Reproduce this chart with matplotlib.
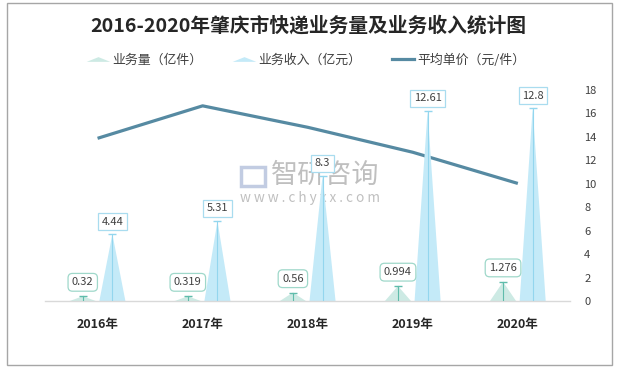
import matplotlib
matplotlib.use("Agg")
import numpy as np
import matplotlib.pyplot as plt
from matplotlib.lines import Line2D
from matplotlib.path import Path
from matplotlib.patches import Rectangle

plt.rcParams['font.family'] = ['Noto Sans CJK SC', 'DejaVu Sans']

years = ['2016年', '2017年', '2018年', '2019年', '2020年']
volume = [0.32, 0.319, 0.56, 0.994, 1.276]      # 业务量（亿件）
revenue = [4.44, 5.31, 8.3, 12.61, 12.8]        # 业务收入（亿元）
unit_price = [13.88, 16.65, 14.82, 12.69, 10.03]  # 平均单价（元/件）
volume_labels = ['0.32', '0.319', '0.56', '0.994', '1.276']
revenue_labels = ['4.44', '5.31', '8.3', '12.61', '12.8']

vol_fill = '#cdeae4'
vol_edge = '#5fbcab'
vol_box = '#9fd8ca'
rev_fill = '#c4eaf8'
rev_edge = '#93d6ee'
rev_box = '#a9dcef'
line_color = '#568aa2'
text_color = '#404040'

fig = plt.figure(figsize=(6.21, 3.68), dpi=100)
ax = fig.add_axes([0.0725, 0.182, 0.846, 0.5734])
ax2 = ax.twinx()

x = np.arange(len(years))
off = 0.141
hw = 0.124


def spike(ax, xc, h, color):
    ax.fill([xc - hw, xc, xc + hw], [0, h, 0], color=color, lw=0, zorder=2)


# watermark (behind the labels)
fig.text(0.437, 0.524, '智研咨询', ha='left', va='center', fontsize=19.5,
         color='#8c8c8c', alpha=0.55, zorder=0)
fig.text(0.386, 0.463, 'w w w . c h y x x . c o m', ha='left', va='center', fontsize=9.8,
         color='#8c8c8c', alpha=0.55, zorder=0)
fig.patches.append(Rectangle((0.388, 0.495), 0.038, 0.052, transform=fig.transFigure,
                             fc='none', ec='#a9b7d6', lw=2.5, alpha=0.7, zorder=0))

for i in range(len(years)):
    xv = x[i] - off
    xr = x[i] + off
    spike(ax, xv, volume[i], vol_fill)
    spike(ax, xr, revenue[i], rev_fill)
    ax.plot([xv, xv], [0, volume[i]], color=vol_edge, lw=0.8, zorder=3)
    ax.plot([xv], [volume[i]], marker='_', ms=6, mew=1, color=vol_edge, zorder=3)
    ax.plot([xr, xr], [0, revenue[i]], color=rev_edge, lw=0.8, zorder=3)
    ax.plot([xr], [revenue[i]], marker='_', ms=6, mew=1, color=rev_edge, zorder=3)
    ax.annotate(volume_labels[i], xy=(xv, volume[i]), xytext=(0, 10),
                textcoords='offset points', ha='center', va='center',
                fontsize=8, color=text_color, zorder=5,
                bbox=dict(boxstyle='round,pad=0.35,rounding_size=0.4', fc='white',
                          ec=vol_box, lw=0.9))
    ax.annotate(revenue_labels[i], xy=(xr, revenue[i]), xytext=(0, 9),
                textcoords='offset points', ha='center', va='center',
                fontsize=8, color=text_color, zorder=5,
                bbox=dict(boxstyle='square,pad=0.3', fc='white', ec=rev_box, lw=0.9))

ax.set_xlim(-0.5, 4.5)
ax.set_ylim(0, 14)
ax.set_yticks([])
ax.set_xticks(x)
ax.set_xticklabels(years, fontsize=9, fontweight='bold', color='#262626')
ax.tick_params(axis='x', length=0, pad=12)
for s in ['top', 'left', 'right']:
    ax.spines[s].set_visible(False)
ax.spines['bottom'].set_color('#d9d9d9')
ax.spines['bottom'].set_linewidth(1)

ax2.plot(x, unit_price, color=line_color, lw=2.3, zorder=4, solid_capstyle='butt')
ax2.set_ylim(0, 18)
ax2.set_yticks(np.arange(0, 19, 2))
ax2.tick_params(axis='y', length=0, pad=10, labelsize=8, labelcolor=text_color)
for s in ['top', 'left', 'right', 'bottom']:
    ax2.spines[s].set_visible(False)
ax.set_zorder(ax2.get_zorder() + 1)
ax.patch.set_visible(False)

fig.text(0.497, 0.931, '2016-2020年肇庆市快递业务量及业务收入统计图', ha='center', va='center',
         fontsize=14.2, fontweight='bold', color='#262626')

tri = Path([(-1, -0.2), (0, 0.2), (1, -0.2), (-1, -0.2)],
           [Path.MOVETO, Path.LINETO, Path.LINETO, Path.CLOSEPOLY])
handles = [
    Line2D([], [], ls='none', marker=tri, ms=17, color=vol_fill, mew=0),
    Line2D([], [], ls='none', marker=tri, ms=17, color=rev_fill, mew=0),
    Line2D([], [], color=line_color, lw=2.3),
]
fig.legend(handles, ['业务量（亿件）', '业务收入（亿元）', '平均单价（元/件）'],
           loc='center', bbox_to_anchor=(0.493, 0.837), ncol=3, frameon=False,
           fontsize=9.3, labelcolor=text_color, handlelength=1.7, handletextpad=0.25,
           columnspacing=2.4)

fig.patches.append(Rectangle((7 / 621, 3 / 368), 605 / 621, 362 / 368,
                             transform=fig.transFigure, fc='none', ec='#a6a6a6', lw=1))

fig.savefig('out.png', dpi=100)
